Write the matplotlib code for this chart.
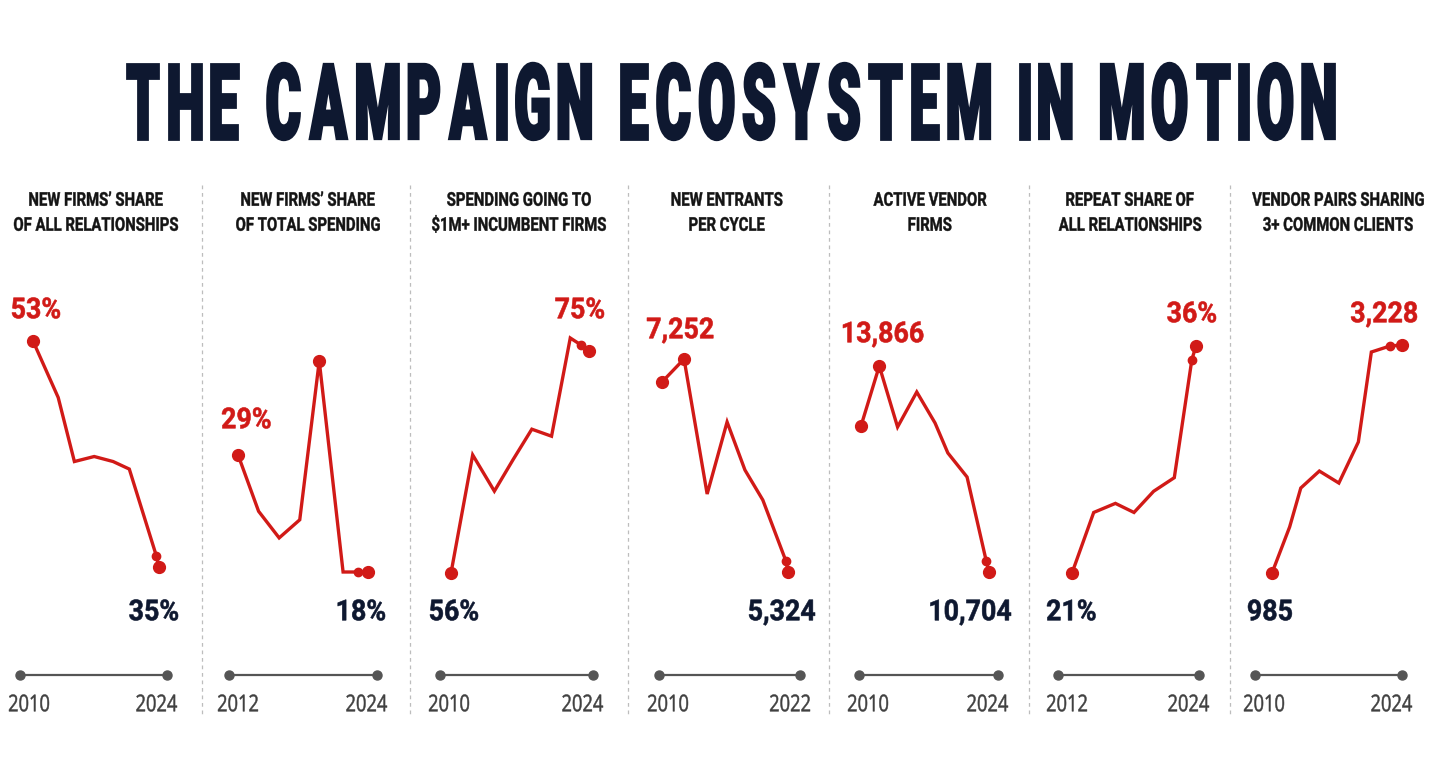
import matplotlib
matplotlib.use("Agg")
import matplotlib.pyplot as plt
from matplotlib.textpath import TextPath
from matplotlib.patches import PathPatch
from matplotlib.font_manager import FontProperties
from matplotlib.transforms import Affine2D
from matplotlib.lines import Line2D

# ---- data -------------------------------------------------------------
titles = [
    "NEW FIRMS\u2019 SHARE\nOF ALL RELATIONSHIPS",
    "NEW FIRMS\u2019 SHARE\nOF TOTAL SPENDING",
    "SPENDING GOING TO\n$1M+ INCUMBENT FIRMS",
    "NEW ENTRANTS\nPER CYCLE",
    "ACTIVE VENDOR\nFIRMS",
    "REPEAT SHARE OF\nALL RELATIONSHIPS",
    "VENDOR PAIRS SHARING\n3+ COMMON CLIENTS",
]
start_years = [2010, 2012, 2010, 2010, 2010, 2012, 2010]
end_years = [2024, 2024, 2024, 2022, 2024, 2024, 2024]

years_1 = [2010, 2012.8, 2014.6, 2016.8, 2018.9, 2020.7, 2023.7, 2024]
values_1 = [53, 48.5, 43.4, 43.8, 43.4, 42.8, 35.9, 35.0]
years_2 = [2012, 2013.9, 2015.8, 2017.7, 2019.5, 2021.7, 2023.1, 2024]
values_2 = [29, 23.7, 21.2, 22.9, 37.8, 18, 18, 18]
years_3 = [2010, 2012.2, 2014.4, 2016.3, 2018.2, 2020.2, 2022.1, 2023.2, 2024]
values_3 = [56, 66.1, 63.0, 65.7, 68.3, 67.7, 76.1, 75.5, 75.0]
years_4 = [2010, 2012.1, 2014.3, 2016.2, 2017.9, 2019.6, 2021.8, 2022]
values_4 = [7044, 7252, 6030, 6682, 6247, 5976, 5424, 5324]
years_5 = [2010, 2012.0, 2014.0, 2016.1, 2018.1, 2019.5, 2021.6, 2023.7, 2024]
values_5 = [12945, 13866, 12930, 13467, 12991, 12531, 12162, 10873, 10704]
years_6 = [2012, 2014.1, 2016.2, 2018.0, 2019.9, 2021.9, 2023.6, 2024]
values_6 = [21, 25.0, 25.6, 25.0, 26.4, 27.3, 35.1, 36]
years_7 = [2010, 2011.9, 2013.1, 2015.1, 2017.2, 2019.3, 2020.7, 2022.7, 2024]
values_7 = [985, 1438, 1821, 1988, 1870, 2274, 3159, 3218, 3228]

years = [years_1, years_2, years_3, years_4, years_5, years_6, years_7]
values = [values_1, values_2, values_3, values_4, values_5, values_6, values_7]

red_labels = ["53%", "29%", "75%", "7,252", "13,866", "36%", "3,228"]
dark_labels = ["35%", "18%", "56%", "5,324", "10,704", "21%", "985"]
# extra big dot (index) besides first/last
extra_dot = [None, 4, None, 1, 1, None, None]

# ---- layout (pixels) ----------------------------------------------------
W, H = 1434, 775
RED = "#d11a17"
NAVY = "#0e1830"
GRAY = "#555555"

plot_x = [(33, 159), (238, 368), (451, 589), (662, 788), (861, 989), (1072, 1196), (1272, 1402)]
plot_y = [(341, 567), (361, 572), (338, 573), (359, 572), (366, 572), (346, 573), (345, 573)]
title_cx = [96, 308, 519, 727, 930, 1130, 1338]
red_pos = [(12, 308, "left"), (222, 418, "left"), (604, 308, "right"), (647, 328, "left"),
           (843, 332, "left"), (1216, 312, "right"), (1417, 312, "right")]
dark_pos = [(178, 610, "right"), (385, 610, "right"), (430, 610, "left"), (815, 610, "right"),
            (1011, 610, "right"), (1047, 610, "left"), (1248, 610, "left")]
time_x = [(20, 167), (229, 377), (440, 593), (659, 800), (859, 998), (1058, 1199), (1255, 1402)]
separators = [202, 410, 628, 829, 1029, 1230]

fig = plt.figure(figsize=(W / 100, H / 100), dpi=100)
fig.patch.set_facecolor("white")
px = Affine2D().scale(1 / W, 1 / H) + fig.transFigure

bold = FontProperties(family=["Roboto", "DejaVu Sans"], weight="bold")
heavy = FontProperties(family=["Roboto", "DejaVu Sans"], weight="black")
regular = FontProperties(family=["Open Sans", "DejaVu Sans"], weight="normal")


def cap_units(prop):
    return TextPath((0, 0), "H", size=100, prop=prop).get_extents().height


def natural_width(s, prop, cap):
    ext = TextPath((0, 0), s, size=100, prop=prop).get_extents()
    return ext.width * cap / cap_units(prop)


def squeezed(s, x, y, cap, color, prop, squeeze=1.0, width=None, ha="left", lw=0.0):
    tp = TextPath((0, 0), s, size=100, prop=prop)
    ext = tp.get_extents()
    sy = cap / cap_units(prop)
    sx = width / ext.width if width is not None else sy * squeeze
    w = ext.width * sx
    x0 = {"left": x, "center": x - w / 2, "right": x - w}[ha]
    tr = Affine2D().translate(-ext.x0, 0).scale(sx, sy).translate(x0, H - y - cap / 2)
    patch = PathPatch(tr.transform_path(tp), transform=px, fc=color, ec=color, lw=lw)
    fig.add_artist(patch)


def tracked(s, x, y, cap, color, prop, width, gap, word_gap, lw=0.0):
    # display type: glyphs placed by ink box with even gaps
    sy = cap / cap_units(prop)
    glyphs = [TextPath((0, 0), c, size=100, prop=prop) if c != " " else None for c in s]
    ink = sum(g.get_extents().width for g in glyphs if g is not None)
    n_word = s.count(" ")
    n_gap = len(s) - 1 - 2 * n_word
    sx = (width - gap * n_gap - word_gap * n_word) / ink
    cx = x
    for k, g in enumerate(glyphs):
        if g is None:
            cx += word_gap - gap
            continue
        ext = g.get_extents()
        tr = Affine2D().translate(-ext.x0, 0).scale(sx, sy).translate(cx, H - y - cap / 2)
        fig.add_artist(PathPatch(tr.transform_path(g), transform=px, fc=color, ec=color,
                                 lw=lw, joinstyle="miter"))
        cx += ext.width * sx + gap


# squeeze factors calibrated on strings measured in the picture
sq_title = 164 / natural_width("OF ALL RELATIONSHIPS", bold, 13.5)
sq_value = 48 / natural_width("53%", bold, 20.5)
sq_year = 40 / natural_width("2010", regular, 16.5)

# main title
tracked("THE CAMPAIGN ECOSYSTEM IN MOTION", 126.5, 101.5, 74.5, NAVY, heavy,
        width=1208, gap=10.5, word_gap=30, lw=2.0)

# dashed separators
for sx in separators:
    fig.add_artist(Line2D([sx, sx], [H - 185, H - 715], transform=px, color="#bdbdbd",
                          lw=0.9, ls=(0, (3, 3))))

for i in range(7):
    # panel title
    line1, line2 = titles[i].split("\n")
    squeezed(line1, title_cx[i], 199, 13.5, "#141414", bold, sq_title, ha="center", lw=0.3)
    squeezed(line2, title_cx[i], 224, 13.5, "#141414", bold, sq_title, ha="center", lw=0.3)

    # line chart
    (x0, x1), (ytop, ybot) = plot_x[i], plot_y[i]
    ax = fig.add_axes([x0 / W, (H - ybot) / H, (x1 - x0) / W, (ybot - ytop) / H])
    ax.set_xlim(years[i][0], years[i][-1])
    ax.set_ylim(min(values[i]), max(values[i]))
    ax.axis("off")
    ax.plot(years[i], values[i], color=RED, lw=2.4, clip_on=False, solid_joinstyle="miter")
    big = [0, len(years[i]) - 1]
    if extra_dot[i] is not None:
        big.append(extra_dot[i])
    ax.plot([years[i][k] for k in big], [values[i][k] for k in big], "o", color=RED,
            ms=8.5, clip_on=False)
    ax.plot(years[i][-2], values[i][-2], "o", color=RED, ms=6, clip_on=False)

    # value labels
    rx, ry, rha = red_pos[i]
    squeezed(red_labels[i], rx, ry, 20.5, RED, bold, sq_value, ha=rha, lw=0.4)
    dx, dy, dha = dark_pos[i]
    squeezed(dark_labels[i], dx, dy, 20.5, NAVY, bold, sq_value, ha=dha, lw=0.4)

    # timeline
    t0, t1 = time_x[i]
    tax = fig.add_axes([t0 / W, (H - 680) / H, (t1 - t0) / W, 10 / H])
    tax.set_xlim(start_years[i], end_years[i])
    tax.set_ylim(-1, 1)
    tax.axis("off")
    tax.plot([start_years[i], end_years[i]], [0, 0], color=GRAY, lw=1.6, clip_on=False)
    tax.plot([start_years[i], end_years[i]], [0, 0], "o", color=GRAY, ms=6.5, clip_on=False)
    squeezed(str(start_years[i]), t0 - 11, 703, 16.5, "#404040", regular, sq_year,
             ha="left", lw=0.35)
    squeezed(str(end_years[i]), t1 + 10, 703, 16.5, "#404040", regular, sq_year,
             ha="right", lw=0.35)

fig.savefig("out.png", dpi=100, facecolor="white")
